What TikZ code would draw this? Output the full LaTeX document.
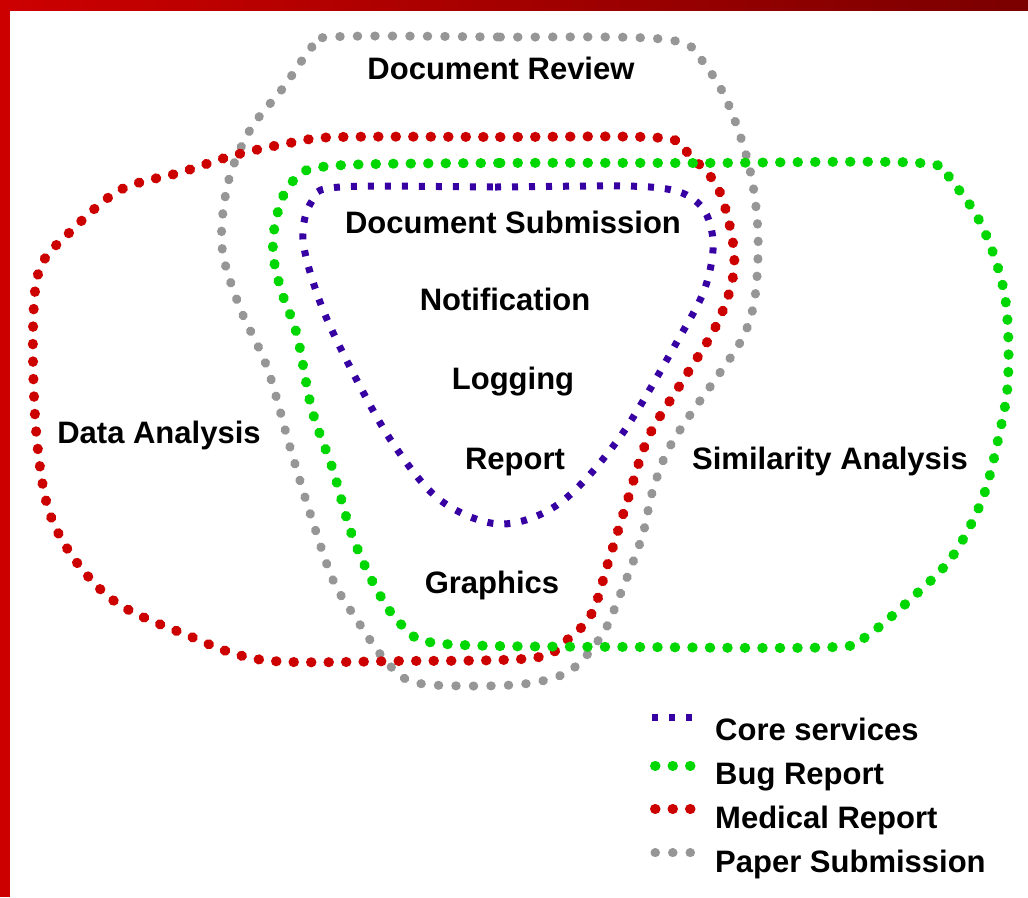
\documentclass[tikz,border=0pt]{standalone}
\usepackage{fontspec}
\setmainfont{Liberation Sans}
\usepackage{tikz}

\begin{document}
\begin{tikzpicture}
		[x=1pt,y=-1pt,line cap=round,
		%Styles
		set line/.style={line width=10pt,line cap=round,dash pattern=on 0.5pt off 17pt},
		core line/.style={line width=7pt,line cap=butt,dash pattern=on 6pt off 11pt,draw=corecolor},
		bug line/.style={set line,draw=bugcolor},
		medical line/.style={set line,draw=medcolor},
		paper line/.style={set line,line width=9pt,draw=papercolor},
		label text/.style={font=\fontsize{31}{36}\selectfont\bfseries,inner sep=0pt,anchor=base},
		legend text/.style={label text,anchor=base west}
		]
		
		%Colors
		\colorlet{corecolor}{blue!75!red!85!black}
		\definecolor{bugcolor}{RGB}{0,215,0}
		\definecolor{medcolor}{RGB}{205,0,0}
		\definecolor{papercolor}{RGB}{150,150,150}
		\definecolor{framered}{RGB}{205,0,0}
		
		%Frame
		\useasboundingbox (0,0) rectangle (1028,897);
		\fill[white] (0,0) rectangle (1028,897);
		\fill[framered] (0,0) rectangle (10,897);
		\shade[left color=framered,right color=framered!60!black] (0,0) rectangle (1028,10);
		
		%The graphic
		\draw[paper line] plot[smooth cycle,tension=0.55] coordinates {
			(330,37) (500,37) (670,40) (707,68) (730,108) (750,170) (758,233)
			(755,297) (743,337) (717,377) (690,415) (667,452) (652,493) (642,537)
			(620,595) (602,635) (571,670) (531,683) (473,686) (413,682) (385,660)
			(357,620) (333,580) (310,513) (290,447) (267,367) (240,308) (222,247)
			(228,183) (250,130) (283,88) (310,50)};
		
		\draw[medical line] plot[smooth cycle,tension=0.55] coordinates {
			(340,137) (500,137) (662,138) (690,156) (718,188) (733,243) (732,282)
			(715,328) (680,385) (648,438) (627,502) (608,563) (592,613) (567,640)
			(533,658) (400,661) (263,660) (182,633) (117,603) (75,560) (48,508)
			(36,430) (33,330) (40,268) (70,232) (120,190) (182,172) (235,155) (295,142)};
		
		\draw[bug line] plot[smooth cycle,tension=0.55] coordinates {
			(330,166) (500,163) (700,163) (920,163) (952,182) (983,228) (1005,297)
			(1008,380) (998,440) (982,500) (952,557) (913,597) (868,635) (835,647)
			(640,647) (445,644) (404,627) (377,590) (352,535) (333,470) (312,410)
			(297,335) (282,293) (273,253) (277,215) (292,182)};
		
		\draw[core line] plot[smooth cycle,tension=0.55] coordinates {
			(340,187) (495,187) (650,187) (698,203) (713,240) (705,288) (678,340)
			(620,437) (560,503) (500,524) (440,500) (392,442) (350,367) (320,302)
			(303,240) (312,201)};
		
		%Labels
		\node[label text] (review) at (501,79) {Document Review};
		\node[label text] (submission) at (513,233) {Document Submission};
		\node[label text] (notification) at (505,310) {Notification};
		\node[label text] (logging) at (513,389) {Logging};
		\node[label text] (report) at (515,469) {Report};
		\node[label text] (graphics) at (492,593) {Graphics};
		\node[label text] (data) at (159,443) {Data Analysis};
		\node[label text] (similarity) at (830,469) {Similarity Analysis};
		
		%Legend
		\node[legend text] (lcore) at (715,740) {Core services};
		\node[legend text] (lbug) at (715,784) {Bug Report};
		\node[legend text] (lmed) at (715,828) {Medical Report};
		\node[legend text] (lpaper) at (715,872) {Paper Submission};
		
		\draw[core line] (lcore.west) ++(-63,-11) -- ++(40,0);
		\draw[bug line] (lbug.west) ++(-60,-11) -- ++(36,0);
		\draw[medical line] (lmed.west) ++(-60,-11) -- ++(36,0);
		\draw[paper line] (lpaper.west) ++(-60,-11) -- ++(36,0);
	\end{tikzpicture}
\end{document}
